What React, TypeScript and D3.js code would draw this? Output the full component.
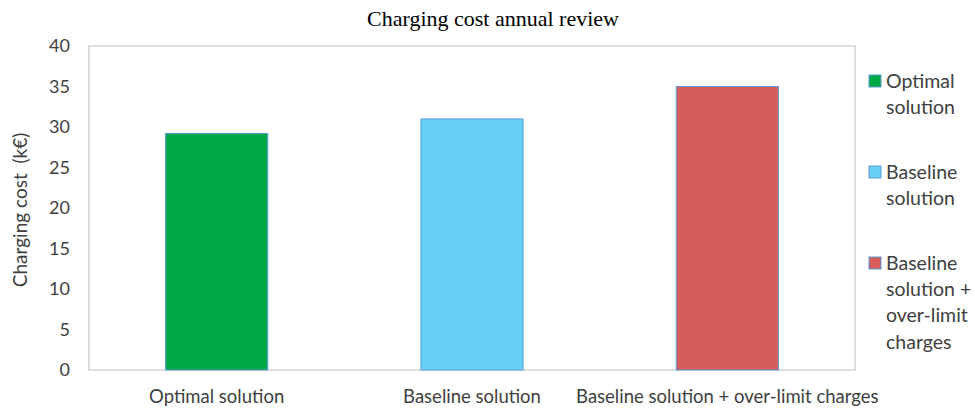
import React from "react";
import * as d3 from "d3";

const categories = ["Optimal solution", "Baseline solution", "Baseline solution + over-limit charges"];
const values = [29.2, 31.0, 35.0];
const colors = ["#00a846", "#66cff5", "#d75c5c"];
const legendLabels = [["Optimal", "solution"], ["Baseline", "solution"], ["Baseline", "solution +", "over-limit", "charges"]];
const yTicks = [0, 5, 10, 15, 20, 25, 30, 35, 40];

const W = 975, H = 408;
const left = 89, right = 855, top = 46, bottom = 370;
const font = "Lato, 'Open Sans', sans-serif";

export default function App() {
  const x = d3.scaleBand<string>().domain(categories).range([left, right]).paddingInner(0.6).paddingOuter(0.3);
  const y = d3.scaleLinear().domain([0, 40]).range([bottom, top]);
  const legendY = [81, 172, 263];
  return (
    <svg width={W} height={H} style={{ position: "absolute", left: 0, top: 0, background: "#fff" }}>
      <text x={493} y={18} dy="0.35em" textAnchor="middle" fontFamily="'Liberation Serif', serif" fontSize={22} fill="#000">Charging cost annual review</text>
      <rect x={left} y={top} width={right - left} height={bottom - top} fill="none" stroke="#d4d4d4" strokeWidth={1.5} />
      {yTicks.map(t => (
        <text key={t} x={70} y={y(t)} dy="0.35em" textAnchor="end" fontFamily={font} fontSize={18} fill="#404040">{t}</text>
      ))}
      <text transform={`translate(20,210) rotate(-90)`} textAnchor="middle" dy="0.35em" fontFamily={font} fontSize={19} fill="#404040" style={{ whiteSpace: "pre" }}>Charging cost  (k€)</text>
      {categories.map((c, i) => (
        <g key={c}>
          <rect x={x(c)!} y={y(values[i])} width={x.bandwidth()} height={bottom - y(values[i])} fill={colors[i]} stroke="#5b9bd5" strokeWidth={1} />
          <text x={x(c)! + x.bandwidth() / 2} y={397} dy="0.35em" textAnchor="middle" fontFamily={font} fontSize={18.5} fill="#404040">{c}</text>
        </g>
      ))}
      {legendLabels.map((lines, i) => (
        <g key={i}>
          <rect x={869} y={legendY[i] - 6} width={12} height={12} fill={colors[i]} stroke="#5b9bd5" strokeWidth={1} />
          {lines.map((l, j) => (
            <text key={j} x={886} y={legendY[i] + j * 26.3} dy="0.35em" fontFamily={font} fontSize={19.5} fill="#404040">{l}</text>
          ))}
        </g>
      ))}
    </svg>
  );
}
